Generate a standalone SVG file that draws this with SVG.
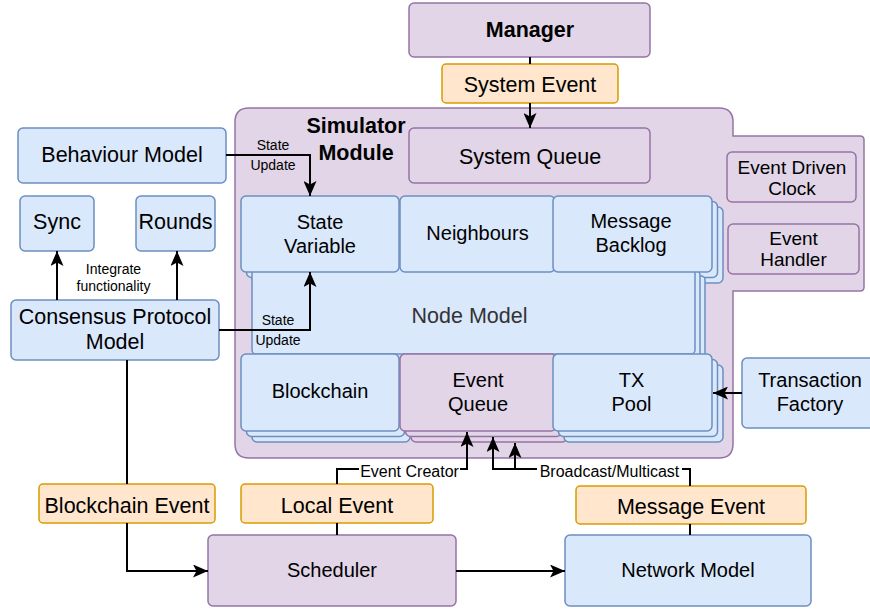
<svg xmlns="http://www.w3.org/2000/svg" width="870" height="611" viewBox="0 0 870 611">
<style>
text{font-family:"Liberation Sans",Arial,sans-serif;fill:#000;text-anchor:middle}
.b{fill:#dae8fc;stroke:#6c8ebf;stroke-width:1.5}
.p{fill:#e1d5e7;stroke:#9673a6;stroke-width:1.5}
.o{fill:#ffe6cc;stroke:#d79b00;stroke-width:1.5}
.t20{font-size:20px}
.t19{font-size:19px}
.t21{font-size:21.5px}
.bd{font-weight:bold}
.s14{font-size:14px}
.s16{font-size:16px}
.e{fill:none;stroke:#000;stroke-width:2}
.a{marker-end:url(#arr)}
.lbg{fill:#fff;stroke:none}
</style>
<defs>
<marker id="arr" markerUnits="userSpaceOnUse" markerWidth="15" markerHeight="13" refX="15" refY="6.5" orient="auto"><path d="M0,0 L15,6.5 L0,13 L3.5,6.5 Z" fill="#000"/></marker>
</defs>
<rect width="870" height="611" fill="#fff"/>

<g id="simulator-module">
<path class="p" d="M249,108 H719 Q733,108 733,122 V136 H860 Q864,136 864,140 V287 Q864,291 860,291 H733 V444 Q733,458 719,458 H249 Q235,458 235,444 V122 Q235,108 249,108 Z"/>
<text class="t21 bd" x="356" y="133">Simulator</text>
<text class="t21 bd" x="356" y="160">Module</text>
</g>

<g id="manager"><rect class="p" x="409" y="3" width="241" height="54" rx="5"/><text class="t21 bd" x="530" y="37">Manager</text></g>
<g id="system-event"><rect class="o" x="442" y="64" width="176" height="39" rx="4"/><text class="t21" x="530" y="92">System Event</text></g>
<g id="system-queue"><rect class="p" x="409" y="128" width="241" height="55" rx="5"/><text class="t21" x="530" y="164">System Queue</text></g>
<g id="event-driven-clock"><rect class="p" x="727" y="152" width="129" height="50" rx="5"/><text class="t19" x="792" y="174">Event Driven</text><text class="t19" x="792" y="195">Clock</text></g>
<g id="event-handler"><rect class="p" x="728" y="224" width="131" height="50" rx="5"/><text class="t19" x="793.5" y="245">Event</text><text class="t19" x="793.5" y="266">Handler</text></g>
<g id="transaction-factory"><rect class="b" x="742" y="358" width="136" height="70" rx="5"/><text class="t20" x="810" y="387">Transaction</text><text class="t20" x="810" y="411">Factory</text></g>

<g id="behaviour-model"><rect class="b" x="18" y="128" width="208" height="55" rx="5"/><text class="t21" x="122" y="162">Behaviour Model</text></g>
<g id="sync"><rect class="b" x="20" y="196" width="74" height="55" rx="5"/><text class="t21" x="57" y="229">Sync</text></g>
<g id="rounds"><rect class="b" x="136" y="196" width="79" height="55" rx="5"/><text class="t21" x="175.5" y="229">Rounds</text></g>
<g id="consensus-protocol-model"><rect class="b" x="11" y="300" width="208" height="60" rx="5"/><text class="t21" x="115" y="324">Consensus Protocol</text><text class="t21" x="115" y="349">Model</text></g>

<g id="state-variable-stack"><rect class="b" x="252" y="207" width="158" height="76" rx="5"/><rect class="b" x="246.5" y="201.5" width="158" height="76" rx="5"/></g>
<g id="message-backlog-stack"><rect class="b" x="564" y="207" width="159" height="76" rx="5"/><rect class="b" x="558.5" y="201.5" width="159" height="76" rx="5"/></g>
<g id="node-model"><rect class="b" x="262" y="276" width="443" height="88" rx="4"/><rect class="b" x="257" y="271" width="443" height="88" rx="4"/><rect class="b" x="252" y="266" width="443" height="88" rx="4"/><text class="t21" x="469.5" y="323" style="fill:#333">Node Model</text></g>
<g id="state-variable"><rect class="b" x="241" y="196" width="158" height="76" rx="5"/><text class="t20" x="320" y="229">State</text><text class="t20" x="320" y="253">Variable</text></g>
<g id="neighbours"><rect class="b" x="400" y="196" width="155" height="76" rx="5"/><text class="t20" x="477.5" y="240">Neighbours</text></g>
<g id="message-backlog"><rect class="b" x="553" y="196" width="159" height="76" rx="5"/><text class="t20" x="631" y="228">Message</text><text class="t20" x="631" y="252">Backlog</text></g>
<g id="blockchain"><rect class="b" x="252" y="365" width="158" height="77" rx="5"/><rect class="b" x="246.5" y="359.5" width="158" height="77" rx="5"/><rect class="b" x="241" y="354" width="158" height="77" rx="5"/><text class="t20" x="320" y="398">Blockchain</text></g>
<g id="event-queue"><rect class="p" x="411" y="365" width="156" height="77" rx="5"/><rect class="p" x="405.5" y="359.5" width="156" height="77" rx="5"/><rect class="p" x="400" y="354" width="156" height="77" rx="5"/><text class="t20" x="478" y="387">Event</text><text class="t20" x="478" y="411">Queue</text></g>
<g id="tx-pool"><rect class="b" x="564" y="365" width="159" height="77" rx="5"/><rect class="b" x="558.5" y="359.5" width="159" height="77" rx="5"/><rect class="b" x="553" y="354" width="159" height="77" rx="5"/><text class="t20" x="631.5" y="387">TX</text><text class="t20" x="631.5" y="411">Pool</text></g>

<g id="blockchain-event"><rect class="o" x="39" y="484" width="176" height="39" rx="4"/><text class="t21" x="127" y="513">Blockchain Event</text></g>
<g id="local-event"><rect class="o" x="241" y="484" width="192" height="39" rx="4"/><text class="t21" x="337" y="513">Local Event</text></g>
<g id="message-event"><rect class="o" x="576" y="486" width="230" height="38" rx="4"/><text class="t21" x="691" y="514">Message Event</text></g>
<g id="scheduler"><rect class="p" x="208" y="535" width="248" height="71" rx="5"/><text class="t20" x="332" y="577">Scheduler</text></g>
<g id="network-model"><rect class="b" x="565" y="535" width="246" height="71" rx="5"/><text class="t20" x="688" y="577">Network Model</text></g>

<g id="connectors">
<path class="e" d="M530,57 V64"/>
<path class="e a" d="M530,103 V128"/>
<path class="e a" d="M226,155 H310 V196"/>
<path class="e a" d="M219,330 H310 V272"/>
<path class="e a" d="M57,300 V251"/>
<path class="e a" d="M177,300 V251"/>
<path class="e" d="M127,360 V484"/>
<path class="e a" d="M127,523 V571 H208"/>
<path class="e a" d="M337,484 V469 H467 V432"/>
<path class="e" d="M337,523 V535"/>
<path class="e a" d="M690,486 V469 H493 V437"/>
<path class="e a" d="M515,469 V443"/>
<path class="e" d="M690,524 V535"/>
<path class="e a" d="M456,571 H565"/>
<path class="e a" d="M742,393 H713"/>
<text class="s14" x="273" y="150">State</text><text class="s14" x="273" y="170">Update</text>
<text class="s14" x="278" y="325">State</text><text class="s14" x="278" y="345">Update</text>
<text class="s14" x="113.5" y="274">Integrate</text><text class="s14" x="113.5" y="291">functionality</text>
<rect class="lbg" x="359" y="461" width="101" height="18"/><text class="s16" x="409.5" y="477">Event Creator</text>
<rect class="lbg" x="537" y="461" width="145" height="18"/><text class="s16" x="609.5" y="477">Broadcast/Multicast</text>
</g>
</svg>
